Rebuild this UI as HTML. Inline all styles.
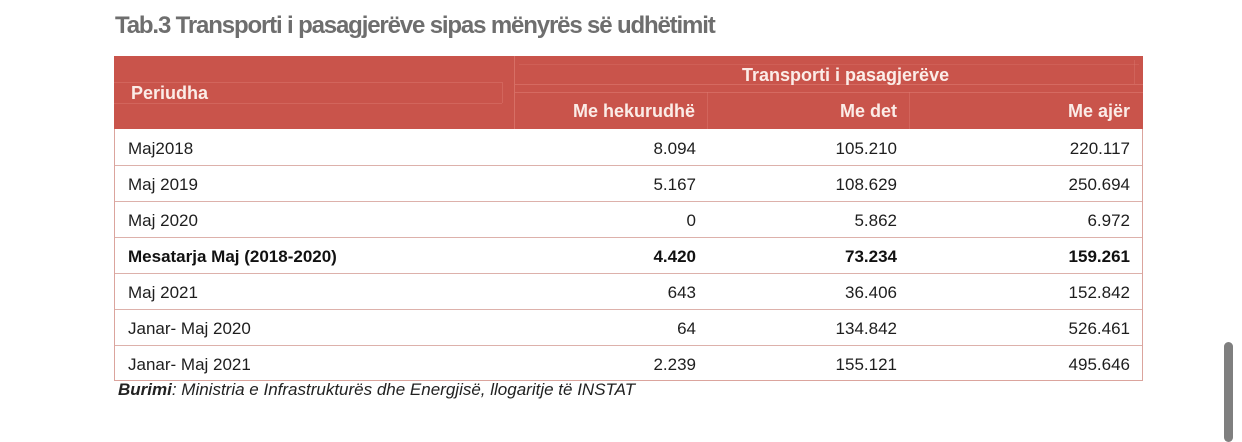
<!DOCTYPE html>
<html><head><meta charset="utf-8">
<style>
html,body{margin:0;padding:0;background:#fff;}
body{width:1242px;height:432px;position:relative;overflow:hidden;font-family:"Liberation Sans",Arial,sans-serif;}
.title{position:absolute;left:115px;top:12px;font-size:24px;font-weight:bold;color:#6e6e6e;letter-spacing:-1.15px;white-space:nowrap;}
.hdr{position:absolute;left:114px;top:56px;width:1029px;height:73px;background:#c9544b;}
.hl{position:absolute;background:#dd7a70;}
.ht{position:absolute;color:#fbece7;font-weight:bold;font-size:18px;white-space:nowrap;}
.tbl{position:absolute;left:114px;top:129px;width:1027px;height:251px;border:1px solid #dba49d;border-top:none;}
.row{position:absolute;left:0;width:1027px;height:36px;border-bottom:1px solid #ddb1ab;}
.c{position:absolute;top:2px;line-height:36px;font-size:17px;color:#1e1e1e;white-space:nowrap;}
.c0{left:13px;}
.c1{right:446px;text-align:right;}
.c2{right:245px;text-align:right;}
.c3{right:12px;text-align:right;}
.b .c{font-weight:bold;color:#111;}
.src{position:absolute;left:118px;top:380px;font-size:17px;font-style:italic;color:#222;white-space:nowrap;}
.sb{position:absolute;left:1224px;top:342px;width:9px;height:100px;border-radius:5px;background:#7f7f7f;}
</style></head><body>
<div class="title">Tab.3 Transporti i pasagjerëve sipas mënyrës së udhëtimit</div>

<div class="hdr">
  <div class="hl" style="left:400px;top:0;width:1px;height:73px;opacity:.7"></div>
  <div class="hl" style="left:0;top:26px;width:388px;height:1px;opacity:.45"></div>
  <div class="hl" style="left:0;top:47px;width:388px;height:1px;opacity:.45"></div>
  <div class="hl" style="left:388px;top:26px;width:1px;height:21px;opacity:.45"></div>
  <div class="hl" style="left:401px;top:28px;width:628px;height:1px;opacity:.6"></div>
  <div class="hl" style="left:401px;top:36px;width:628px;height:1px;opacity:.6"></div>
  <div class="hl" style="left:405px;top:8px;width:620px;height:1px;opacity:.3"></div>
  <div class="hl" style="left:593px;top:36px;width:1px;height:37px;opacity:.45"></div>
  <div class="hl" style="left:795px;top:36px;width:1px;height:37px;opacity:.45"></div>
  <div class="hl" style="left:1020px;top:4px;width:1px;height:24px;opacity:.4"></div>
  <div class="ht" style="left:17px;top:27px;">Periudha</div>
  <div class="ht" style="left:628px;top:9px;">Transporti i pasagjerëve</div>
  <div class="ht" style="right:448px;top:45px;">Me hekurudhë</div>
  <div class="ht" style="right:246px;top:45px;">Me det</div>
  <div class="ht" style="right:13px;top:45px;">Me ajër</div>
</div>

<div class="tbl">
  <div class="row" style="top:0"><span class="c c0">Maj2018</span><span class="c c1">8.094</span><span class="c c2">105.210</span><span class="c c3">220.117</span></div>
  <div class="row" style="top:36px"><span class="c c0">Maj 2019</span><span class="c c1">5.167</span><span class="c c2">108.629</span><span class="c c3">250.694</span></div>
  <div class="row" style="top:72px"><span class="c c0">Maj 2020</span><span class="c c1">0</span><span class="c c2">5.862</span><span class="c c3">6.972</span></div>
  <div class="row b" style="top:108px"><span class="c c0">Mesatarja Maj (2018-2020)</span><span class="c c1">4.420</span><span class="c c2">73.234</span><span class="c c3">159.261</span></div>
  <div class="row" style="top:144px"><span class="c c0">Maj 2021</span><span class="c c1">643</span><span class="c c2">36.406</span><span class="c c3">152.842</span></div>
  <div class="row" style="top:180px"><span class="c c0">Janar- Maj 2020</span><span class="c c1">64</span><span class="c c2">134.842</span><span class="c c3">526.461</span></div>
  <div class="row" style="top:216px;border-bottom:none;"><span class="c c0">Janar- Maj 2021</span><span class="c c1">2.239</span><span class="c c2">155.121</span><span class="c c3">495.646</span></div>
</div>

<div class="src"><b>Burimi</b>: Ministria e Infrastrukturës dhe Energjisë, llogaritje të INSTAT</div>
<div class="sb"></div>
</body></html>
